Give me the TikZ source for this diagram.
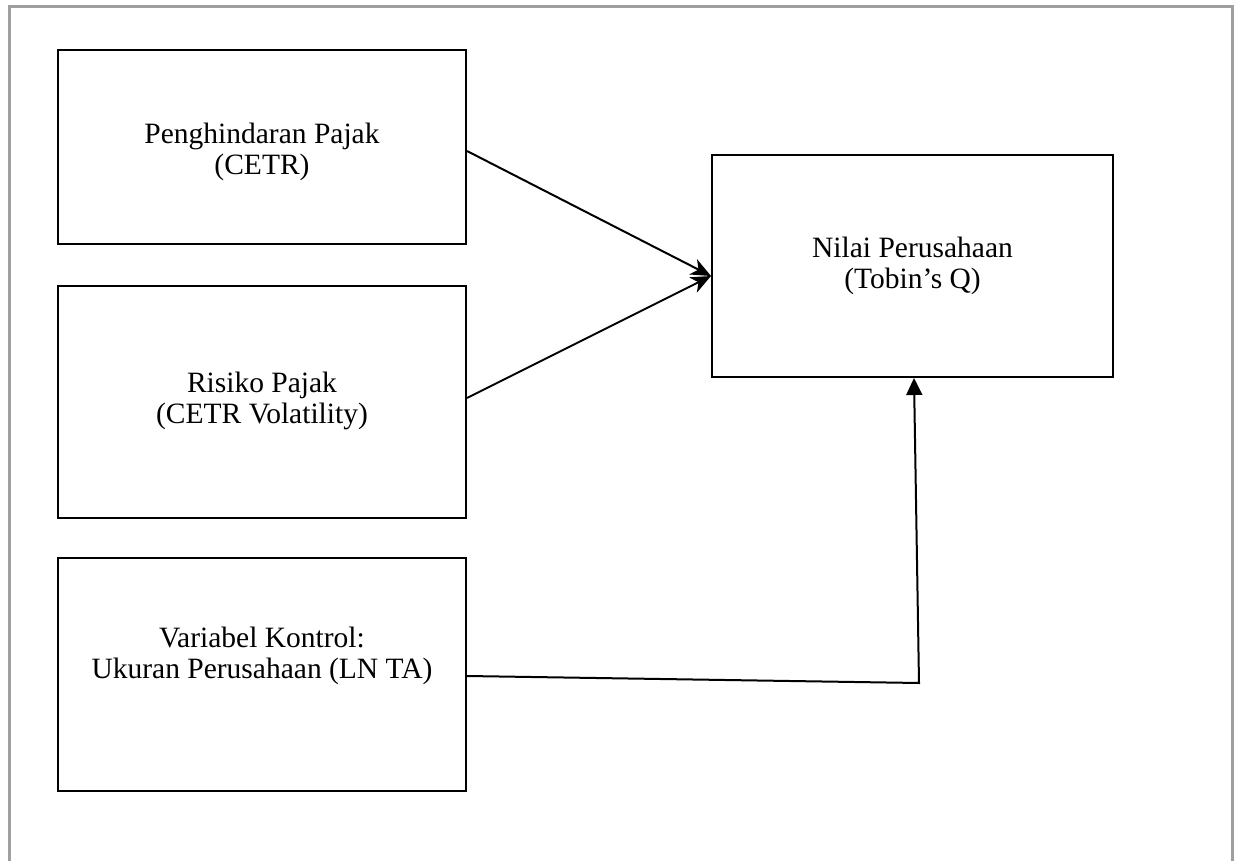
\documentclass[tikz,border=0pt]{standalone}
\usepackage{fontspec}
\setmainfont{Liberation Serif}
\usetikzlibrary{arrows.meta}
\begin{document}
\begin{tikzpicture}[x=1pt,y=-1pt,
  box/.style={draw=black,line width=2pt,rectangle,inner sep=0pt},
  lbl/.style={align=center,inner sep=0pt,font=\fontsize{29.5}{31}\selectfont},
  conn/.style={draw=black,line width=2pt},
  stk/.style={-{Stealth[length=20pt,width=17pt,inset=6pt]}},
  tri/.style={-{Triangle[length=17pt,width=16pt]}},
  frame/.style={draw=gray!75,line width=3pt}]
\useasboundingbox (0,0) rectangle (1240,861);
\draw[frame] (9,861) -- (9,7) -- (1232,7) -- (1232,861);
\node[box,minimum width=408pt,minimum height=194pt] (b1) at (262,147) {};
\node[box,minimum width=408pt,minimum height=232pt] (b2) at (262,402) {};
\node[box,minimum width=408pt,minimum height=233pt] (b3) at (262,674.5) {};
\node[box,minimum width=401pt,minimum height=222pt] (t) at (912.5,266) {};
\node[lbl] (l1) at (262,152) {Penghindaran Pajak\\(CETR)};
\node[lbl] (l2) at (262,401) {Risiko Pajak\\(CETR Volatility)};
\node[lbl] (l3) at (262,656) {Variabel Kontrol:\\Ukuran Perusahaan (LN TA)};
\node[lbl] (lt) at (912.5,266) {Nilai Perusahaan\\(Tobin’s Q)};
\draw[conn,stk] ([yshift=-4pt]b1.east) -- ([yshift=-10pt]t.west);
\draw[conn,stk] ([yshift=4pt]b2.east) -- ([yshift=-10pt]t.west);
\coordinate (c) at (919,683);
\draw[conn,tri] ([yshift=-1.5pt]b3.east) -- (c) -- ([xshift=1.5pt]t.south);
\end{tikzpicture}
\end{document}
